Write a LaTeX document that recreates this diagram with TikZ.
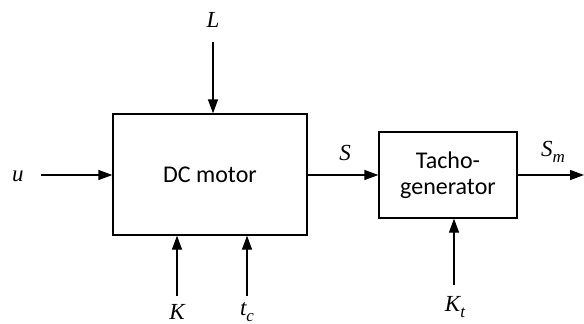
\documentclass[tikz,border=0pt]{standalone}
\usepackage{fontspec}
\setmainfont{Carlito}
\newfontfamily\lblserif{Liberation Serif}
\newcommand{\mysub}[1]{\raisebox{-0.25em}{\fontsize{17}{17}\selectfont #1}}
\usetikzlibrary{arrows.meta}
\begin{document}
\begin{tikzpicture}[x=1pt,y=-1pt,
  blk/.style={draw,line width=1.3pt,inner sep=0pt,font=\fontsize{24}{28}\selectfont,align=center},
  lbl/.style={inner sep=0pt,font=\fontsize{23}{26}\lblserif\itshape},
  arr/.style={line width=1.3pt,-{Triangle[length=14pt,width=10pt]}}]
\useasboundingbox (0,0) rectangle (584,324);
\node[blk,minimum width=194pt,minimum height=121pt] (motor) at (210,174.5) {DC motor};
\node[blk,minimum width=138pt,minimum height=86pt] (tacho) at (448,175) {Tacho-\\[-2pt]generator};
\node[lbl] (L) at (213,20) {L};
\node[lbl] (u) at (18,176) {u};
\node[lbl] (K) at (177,312) {K};
\node[lbl] (tc) at (247,312) {t\mysub{c}};
\node[lbl] (S) at (345,153) {S};
\node[lbl] (Sm) at (553,152) {S\mysub{m}};
\node[lbl] (Kt) at (455,307) {K\mysub{t}};
\coordinate (Lst) at (213,42);
\coordinate (ust) at (41,175);
\coordinate (Kst) at (177,296);
\coordinate (tcst) at (247,296);
\coordinate (Ktst) at (454,285);
\coordinate (out) at (584,175);
\draw[arr] (Lst) -- (Lst |- motor.north);
\draw[arr] (ust) -- (ust -| motor.west);
\draw[arr] (Kst) -- (Kst |- motor.south);
\draw[arr] (tcst) -- (tcst |- motor.south);
\draw[arr] (motor.east |- tacho.west) -- (tacho.west);
\draw[arr] (Ktst) -- (Ktst |- tacho.south);
\draw[arr] (tacho.east) -- (out);
\end{tikzpicture}
\end{document}
